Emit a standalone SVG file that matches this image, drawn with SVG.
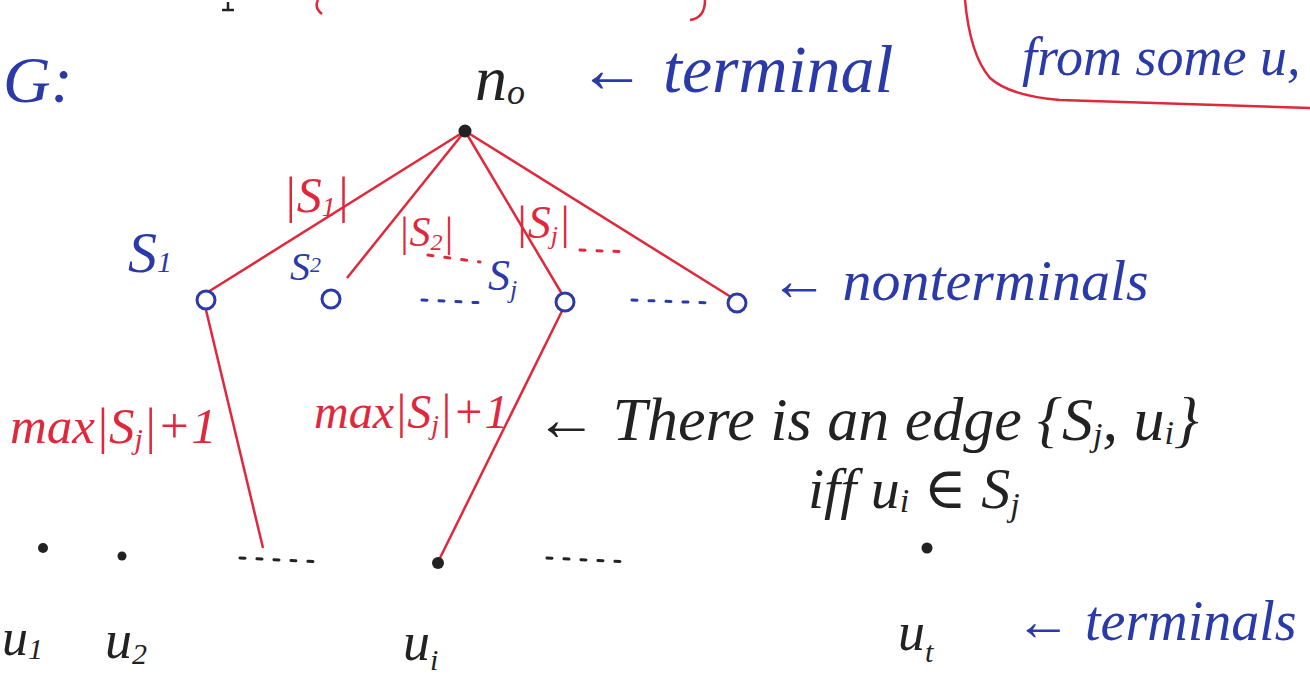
<svg xmlns="http://www.w3.org/2000/svg" width="1310" height="684" viewBox="0 0 1310 684">
<style>
text{font-family:"Liberation Serif","DejaVu Serif",serif;font-style:italic}
.b{fill:#2a3aa8}.r{fill:#e0283c}.k{fill:#222}
.edge{stroke:#e0283c;stroke-width:2.5;fill:none}
.nt{fill:#fff;stroke:#2a3aa8;stroke-width:3}
.t{fill:#222}
.dots{stroke-width:3;stroke-linecap:round;stroke-dasharray:5 12;fill:none}
</style>
<rect width="1310" height="684" fill="#fff"/>
<!-- top cut-off fragments -->
<path d="M318 0 Q314 8 322 14" stroke="#e0283c" stroke-width="2.5" fill="none"/>
<path d="M705 0 Q705 18 690 20" stroke="#e0283c" stroke-width="2.5" fill="none"/>
<path d="M228 2 L228 10 M222 10 L234 10" stroke="#222" stroke-width="2.5" fill="none"/>
<path d="M965 0 Q970 55 990 78 Q1010 96 1060 100 L1310 108" stroke="#e0283c" stroke-width="2.5" fill="none"/>
<text class="b" x="1022" y="75" font-size="54">from some u,</text>
<text class="b" x="3" y="102" font-size="66">G:</text>

<g id="connectors">
<line class="edge" x1="465" y1="131" x2="208" y2="292"/>
<line class="edge" x1="465" y1="131" x2="347" y2="278"/>
<line class="edge" x1="465" y1="131" x2="562" y2="294"/>
<line class="edge" x1="465" y1="131" x2="731" y2="297"/>
<line class="edge" x1="206" y1="310" x2="263" y2="548"/>
<line class="edge" x1="562" y1="311" x2="438" y2="562"/>
</g>
<g id="labels-edges">
<text class="r" x="283" y="212" font-size="50">|S<tspan font-size="28" dy="4">1</tspan><tspan dy="-4">|</tspan></text>
<text class="r" x="398" y="246" font-size="42">|S<tspan font-size="24" dy="4">2</tspan><tspan dy="-4">|</tspan></text>
<path class="dots" d="M428 255 L480 262" stroke="#e0283c"/>
<text class="r" x="515" y="238" font-size="46">|S<tspan font-size="26" dy="6">j</tspan><tspan dy="-6">|</tspan></text>
<path class="dots" d="M580 250 L630 252" stroke="#e0283c"/>
<text class="r" x="10" y="443" font-size="51">max|S<tspan font-size="30" dy="6">j</tspan><tspan dy="-6">|+1</tspan></text>
<text class="r" x="314" y="428" font-size="48">max|S<tspan font-size="28" dy="6">j</tspan><tspan dy="-6">|+1</tspan></text>
</g>

<g id="n0">
<circle cx="465" cy="131" r="6.5" class="t"/>
<text class="k" x="475" y="100" font-size="64">n<tspan font-size="36" dy="4">o</tspan></text>
<text class="b" x="578" y="92" font-size="68">← terminal</text>
</g>
<g id="S1">
<circle class="nt" cx="206" cy="300" r="9"/>
<text class="b" x="128" y="272" font-size="58">S<tspan font-size="30">1</tspan></text>
</g>
<g id="S2">
<circle class="nt" cx="331" cy="299" r="9"/>
<text class="b" x="290" y="280" font-size="40">S<tspan font-size="22" dy="-8">2</tspan></text>
</g>
<g id="Sj">
<circle class="nt" cx="565" cy="302" r="9"/>
<text class="b" x="488" y="290" font-size="44">S<tspan font-size="26" dy="8">j</tspan></text>
<path class="dots" d="M422 300 L486 303" stroke="#2a3aa8"/>
</g>
<g id="Sm">
<circle class="nt" cx="737" cy="303" r="9"/>
<path class="dots" d="M632 300 L712 303" stroke="#2a3aa8"/>
<text class="b" x="770" y="300" font-size="58">← nonterminals</text>
</g>

<g id="note">
<text class="k" x="535" y="440" font-size="62">← There is an edge {S<tspan font-size="34" dy="6">j</tspan><tspan dy="-6">, u</tspan><tspan font-size="34" dy="4">i</tspan><tspan dy="-4">}</tspan></text>
<text class="k" x="808" y="508" font-size="58">iff u<tspan font-size="34" dy="4">i</tspan><tspan dy="-4"> ∈ S</tspan><tspan font-size="34" dy="8">j</tspan></text>
</g>

<g id="u1"><circle class="t" cx="43" cy="548" r="5"/><text class="k" x="2" y="655" font-size="52">u<tspan font-size="30" dy="4">1</tspan></text></g>
<g id="u2"><circle class="t" cx="122" cy="556" r="4.5"/><text class="k" x="105" y="658" font-size="54">u<tspan font-size="30" dy="6">2</tspan></text></g>
<g id="dotsA"><path class="dots" d="M240 558 L322 562" stroke="#222"/></g>
<g id="ui"><circle class="t" cx="438" cy="563" r="6"/><text class="k" x="403" y="660" font-size="54">u<tspan font-size="30" dy="10">i</tspan></text></g>
<g id="dotsB"><path class="dots" d="M547 558 L630 562" stroke="#222"/></g>
<g id="ut"><circle class="t" cx="927" cy="548" r="5.5"/><text class="k" x="898" y="650" font-size="54">u<tspan font-size="30" dy="12">t</tspan></text>
<text class="b" x="1015" y="640" font-size="56">← terminals</text></g>
</svg>
